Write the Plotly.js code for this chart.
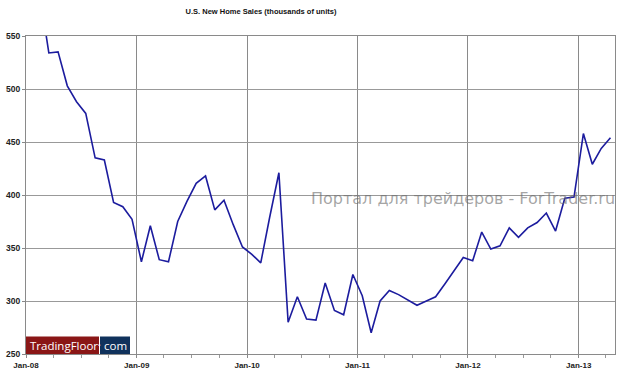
<!DOCTYPE html>
<html>
<head>
<meta charset="utf-8">
<script src="https://cdn.plot.ly/plotly-3.0.1.min.js"></script>
<style>html,body{margin:0;padding:0;background:#fff;}#chart{width:624px;height:374px;}</style>
</head>
<body>
<div id="chart"></div>
<script>
// Months (data points plotted at mid-month, as in the source chart)
const months = [
  '2008-01','2008-02','2008-03','2008-04','2008-05','2008-06','2008-07','2008-08','2008-09','2008-10','2008-11','2008-12',
  '2009-01','2009-02','2009-03','2009-04','2009-05','2009-06','2009-07','2009-08','2009-09','2009-10','2009-11','2009-12',
  '2010-01','2010-02','2010-03','2010-04','2010-05','2010-06','2010-07','2010-08','2010-09','2010-10','2010-11','2010-12',
  '2011-01','2011-02','2011-03','2011-04','2011-05','2011-06','2011-07','2011-08','2011-09','2011-10','2011-11','2011-12',
  '2012-01','2012-02','2012-03','2012-04','2012-05','2012-06','2012-07','2012-08','2012-09','2012-10','2012-11','2012-12',
  '2013-01','2013-02','2013-03','2013-04'
];
// U.S. new home sales, thousands of units
const sales = [
  630, 590, 534, 535, 503, 488, 477, 435, 433, 393, 389, 377,
  337, 371, 339, 337, 375, 394, 411, 418, 386, 395, 372, 351,
  344, 336, 379, 421, 280, 304, 283, 282, 317, 291, 287, 325,
  305, 270, 300, 310, 306, 301, 296, 300, 304, 316, 329, 341,
  338, 365, 349, 352, 369, 360, 369, 374, 383, 366, 397, 398,
  458, 429, 444, 454
];
const titleText = 'U.S. New Home Sales (thousands of units)';
const watermarkText = 'Портал для трейдеров - ForTrader.ru';
const logoLeft = 'TradingFloor';
const logoRight = 'com';

function midMonth(s) {
  const [y, m] = s.split('-').map(Number);
  const a = Date.UTC(y, m - 1, 1), b = Date.UTC(y, m, 1);
  const d = new Date((a + b) / 2);
  return d.toISOString().slice(0, 19).replace('T', ' ');
}
const xs = months.map(midMonth);

const W = 624, H = 374, L = 26, R = 9, T = 36, B = 20;
const pw = W - L - R, ph = H - T - B;
const px = v => (v - L) / pw;
const py = v => (H - B - v) / ph;

const trace = {
  x: xs, y: sales, type: 'scatter', mode: 'lines',
  line: {color: '#1c1c9e', width: 1.6},
  hoverinfo: 'skip'
};

const tickFont = {family: 'Liberation Sans, Arial, sans-serif', size: 8.5, color: '#222', weight: 'bold'};

const layout = {
  width: W, height: H,
  margin: {l: L, r: R, t: T, b: B, pad: 0},
  paper_bgcolor: '#fff', plot_bgcolor: '#fff',
  showlegend: false,
  title: {
    text: titleText,
    font: {family: 'Liberation Sans, Arial, sans-serif', size: 7.5, color: '#111', weight: 'bold'},
    x: 261 / W, xanchor: 'center', xref: 'container',
    y: 1 - 11 / H, yanchor: 'middle', yref: 'container'
  },
  xaxis: {
    type: 'date',
    range: ['2008-01-01', '2013-05-01'],
    tick0: '2008-01-01', dtick: 'M12', tickformat: '%b-%y',
    ticks: 'outside', ticklen: 3, tickcolor: '#888',
    tickfont: Object.assign({}, tickFont, {size: 8}),
    showgrid: true, gridcolor: '#8a8a8a', gridwidth: 1,
    showline: true, linecolor: '#8a8a8a', linewidth: 1, mirror: true,
    zeroline: false, fixedrange: true,
    minor: {dtick: 'M3', tick0: '2008-01-01', ticks: 'outside', ticklen: 3, tickcolor: '#999', showgrid: false}
  },
  yaxis: {
    range: [250, 550], dtick: 50, tick0: 250,
    ticks: 'outside', ticklen: 3, tickcolor: '#888',
    tickfont: tickFont,
    showgrid: true, gridcolor: '#999', gridwidth: 1,
    showline: true, linecolor: '#8a8a8a', linewidth: 1, mirror: true,
    zeroline: false, fixedrange: true
  },
  shapes: [
    {type: 'rect', xref: 'paper', yref: 'paper', x0: px(26), x1: px(99), y0: py(354), y1: py(336.5),
     fillcolor: '#8a1616', line: {width: 0}, layer: 'above'},
    {type: 'rect', xref: 'paper', yref: 'paper', x0: px(100), x1: px(130), y0: py(354), y1: py(336.5),
     fillcolor: '#10325c', line: {width: 0}, layer: 'above'}
  ],
  annotations: [
    {text: watermarkText, xref: 'paper', yref: 'paper', x: px(309), y: py(198),
     xanchor: 'left', yanchor: 'middle', showarrow: false,
     font: {family: 'DejaVu Sans, sans-serif', size: 16, color: 'rgba(105,105,105,0.6)'}},
    {text: logoLeft, xref: 'paper', yref: 'paper', x: px(63.5), y: py(345.3),
     xanchor: 'center', yanchor: 'middle', showarrow: false,
     font: {family: 'Open Sans, sans-serif', size: 11.5, color: '#fff'}},
    {text: '•', xref: 'paper', yref: 'paper', x: px(99.5), y: py(345.3),
     xanchor: 'center', yanchor: 'middle', showarrow: false,
     font: {family: 'Open Sans, sans-serif', size: 7, color: '#fff'}},
    {text: logoRight, xref: 'paper', yref: 'paper', x: px(115), y: py(345.3),
     xanchor: 'center', yanchor: 'middle', showarrow: false,
     font: {family: 'Open Sans, sans-serif', size: 11.5, color: '#fff'}}
  ]
};

Plotly.newPlot('chart', [trace], layout, {staticPlot: true, displayModeBar: false});
</script>
</body>
</html>
